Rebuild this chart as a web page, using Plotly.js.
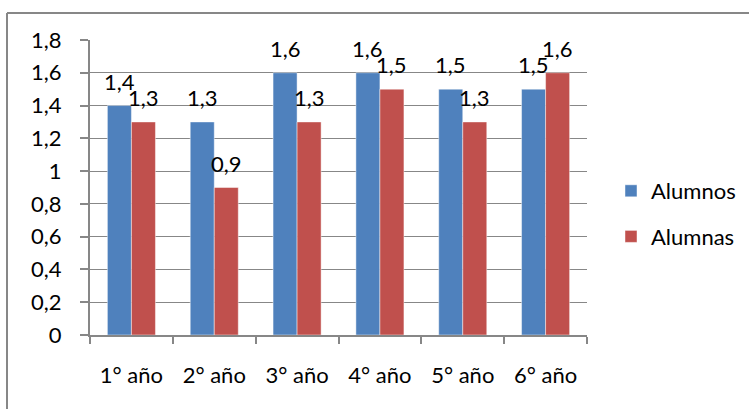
<!DOCTYPE html>
<html>
<head>
<meta charset="utf-8">
<script src="https://cdn.plot.ly/plotly-3.0.1.min.js"></script>
<style>
  html, body { margin: 0; padding: 0; background: #fff; }
  #chart { width: 749px; height: 409px; }
</style>
</head>
<body>
<div id="chart"></div>
<script>
// Students per year level, boys vs girls
const categories = ['1° año', '2° año', '3° año', '4° año', '5° año', '6° año'];
const alumnos = [1.4, 1.3, 1.6, 1.6, 1.5, 1.5];
const alumnas = [1.3, 0.9, 1.3, 1.5, 1.3, 1.6];
const seriesNames = ['Alumnos', 'Alumnas'];

const BLUE = '#4F81BD';
const RED = '#C0504D';
const GRID = '#878787';
const FONT = 'Lato, "Open Sans", sans-serif';
const FS = 22;

const W = 749, H = 409;
const margin = { l: 90, r: 162, t: 40, b: 74, pad: 0 };
const bargap = 0.42;

const fmt = v => v.toFixed(1).replace('.', ',');

const traces = [
  {
    type: 'bar', name: seriesNames[0], x: categories, y: alumnos,
    marker: { color: BLUE, line: { color: 'rgba(255,255,255,0.45)', width: 1 } },
    legendgroup: 'a', hoverinfo: 'skip'
  },
  {
    type: 'bar', name: seriesNames[1], x: categories, y: alumnas,
    marker: { color: RED, line: { color: 'rgba(255,255,255,0.45)', width: 1 } },
    legendgroup: 'b', hoverinfo: 'skip'
  }
];

// value labels sit centred over each bar of the group
const plotW = W - margin.l - margin.r;
const plotH = H - margin.t - margin.b;
const catW = plotW / categories.length;
const barW = catW * (1 - bargap) / 2;
const annotations = [];
[alumnos, alumnas].forEach((vals, s) => {
  vals.forEach((v, i) => {
    annotations.push({
      x: categories[i], y: v, xref: 'x', yref: 'y',
      text: fmt(v), showarrow: false,
      xanchor: 'center', yanchor: 'bottom',
      xshift: (s === 0 ? -1 : 1) * barW / 2,
      yshift: 9,
      font: { family: FONT, size: FS, color: '#000' }
    });
  });
});

const layout = {
  width: W, height: H,
  margin: margin,
  paper_bgcolor: '#fff', plot_bgcolor: '#fff',
  separators: ',.',
  barmode: 'group', bargap: bargap, bargroupgap: 0,
  font: { family: FONT, size: FS, color: '#000' },
  showlegend: true,
  legend: {
    xref: 'container', yref: 'container',
    x: 611 / W, xanchor: 'left', y: 1 - 214 / H, yanchor: 'middle',
    font: { family: FONT, size: FS, color: '#000' },
    traceorder: 'grouped', tracegroupgap: 14,
    itemwidth: 30, bgcolor: 'rgba(0,0,0,0)'
  },
  xaxis: {
    type: 'category',
    showgrid: false, showline: true, linecolor: GRID, linewidth: 2,
    ticks: 'outside', tickson: 'boundaries', ticklen: 7, tickcolor: GRID, tickwidth: 2,
    ticklabelstandoff: 20,
    tickfont: { family: FONT, size: FS, color: '#000' },
    fixedrange: true
  },
  yaxis: {
    range: [0, 1.8], dtick: 0.2, tick0: 0,
    showgrid: true, gridcolor: GRID, gridwidth: 1,
    zeroline: false,
    showline: true, linecolor: GRID, linewidth: 2,
    ticks: 'outside', ticklen: 8, tickcolor: GRID, tickwidth: 2,
    ticklabelstandoff: 14,
    tickfont: { family: FONT, size: FS, color: '#000' },
    fixedrange: true
  },
  annotations: annotations,
  // outer frame: top and left edges only
  shapes: [
    { type: 'line', xref: 'paper', yref: 'paper', layer: 'above',
      x0: (7 - margin.l) / plotW, x1: (W - margin.l) / plotW,
      y0: 1 + (margin.t - 13) / plotH, y1: 1 + (margin.t - 13) / plotH,
      line: { color: GRID, width: 2 } },
    { type: 'line', xref: 'paper', yref: 'paper', layer: 'above',
      x0: (7 - margin.l) / plotW, x1: (7 - margin.l) / plotW,
      y0: -(margin.b + 2) / plotH, y1: 1 + (margin.t - 13) / plotH,
      line: { color: GRID, width: 2 } }
  ]
};

Plotly.newPlot('chart', traces, layout, { displayModeBar: false, staticPlot: true });
</script>
</body>
</html>
